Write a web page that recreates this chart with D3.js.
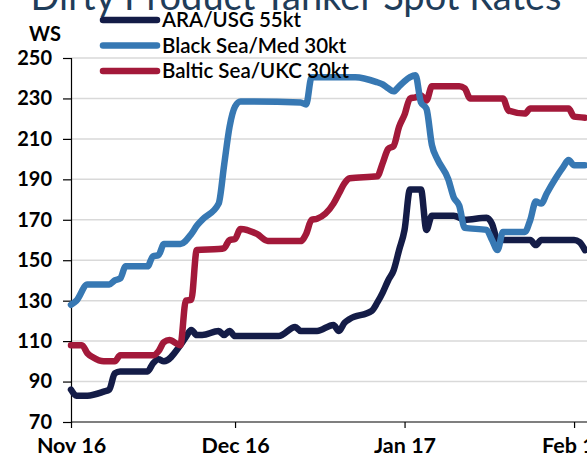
<!DOCTYPE html>
<html>
<head>
<meta charset="utf-8">
<script src="https://cdn.jsdelivr.net/npm/d3@7"></script>
<style>
  body { margin: 0; background: #fff; }
  svg { display: block; font-family: Lato, "Open Sans", sans-serif; }
</style>
</head>
<body>
<div id="chart"></div>
<script>
// chart data (WS points)
var araUsg = [
  ["2016-11-01", 86], ["2016-11-02", 83], ["2016-11-04", 83], ["2016-11-07", 85],
  ["2016-11-08", 86], ["2016-11-09", 94], ["2016-11-10", 95], ["2016-11-15", 95],
  ["2016-11-16", 99], ["2016-11-17", 101], ["2016-11-18", 100], ["2016-11-21", 108],
  ["2016-11-22", 112], ["2016-11-23", 115.5], ["2016-11-24", 113], ["2016-11-25", 113],
  ["2016-11-28", 115], ["2016-11-29", 113], ["2016-11-30", 115], ["2016-12-01", 112.5],
  ["2016-12-09", 112.5], ["2016-12-12", 117], ["2016-12-13", 115], ["2016-12-16", 115],
  ["2016-12-19", 118], ["2016-12-20", 115], ["2016-12-21", 119], ["2016-12-22", 121],
  ["2016-12-26", 125], ["2016-12-27", 129], ["2016-12-28", 134], ["2016-12-29", 140],
  ["2016-12-30", 145], ["2016-12-31", 155], ["2017-01-01", 165], ["2017-01-02", 185],
  ["2017-01-04", 185], ["2017-01-05", 165], ["2017-01-06", 172], ["2017-01-10", 172],
  ["2017-01-12", 170], ["2017-01-16", 171], ["2017-01-17", 168], ["2017-01-18", 160],
  ["2017-01-24", 160], ["2017-01-25", 157.5], ["2017-01-26", 160], ["2017-02-01", 160],
  ["2017-02-02", 159], ["2017-02-03", 155]
];

var blackSeaMed = [
  ["2016-11-01", 128], ["2016-11-02", 130], ["2016-11-04", 138], ["2016-11-08", 138],
  ["2016-11-09", 140], ["2016-11-10", 141], ["2016-11-11", 147], ["2016-11-15", 147],
  ["2016-11-16", 152], ["2016-11-17", 152.5], ["2016-11-18", 158], ["2016-11-21", 158],
  ["2016-11-23", 163], ["2016-11-24", 167], ["2016-11-25", 170], ["2016-11-28", 178],
  ["2016-11-29", 197], ["2016-11-30", 216], ["2016-12-01", 226], ["2016-12-02", 228.5],
  ["2016-12-13", 228], ["2016-12-14", 227], ["2016-12-15", 240.5], ["2016-12-23", 240.5],
  ["2016-12-27", 238], ["2016-12-28", 237], ["2016-12-29", 235], ["2016-12-30", 233.5],
  ["2016-12-31", 236], ["2017-01-01", 238.5], ["2017-01-02", 240.5], ["2017-01-03", 241.5],
  ["2017-01-04", 228], ["2017-01-05", 225], ["2017-01-06", 207], ["2017-01-07", 200],
  ["2017-01-09", 190], ["2017-01-10", 181], ["2017-01-11", 177], ["2017-01-12", 166],
  ["2017-01-16", 165], ["2017-01-17", 160], ["2017-01-18", 155], ["2017-01-19", 164],
  ["2017-01-23", 164], ["2017-01-24", 170], ["2017-01-25", 179], ["2017-01-26", 178],
  ["2017-01-27", 183], ["2017-01-30", 196], ["2017-01-31", 199.5], ["2017-02-01", 197],
  ["2017-02-03", 197]
];

var balticUkc = [
  ["2016-11-01", 108], ["2016-11-03", 108], ["2016-11-04", 104], ["2016-11-05", 102],
  ["2016-11-07", 100], ["2016-11-09", 100], ["2016-11-10", 103], ["2016-11-16", 103],
  ["2016-11-17", 105], ["2016-11-18", 109.5], ["2016-11-19", 110.5], ["2016-11-21", 108],
  ["2016-11-22", 130], ["2016-11-23", 130.5], ["2016-11-24", 155], ["2016-11-28", 155.5],
  ["2016-11-29", 156], ["2016-11-30", 160], ["2016-12-01", 160.5], ["2016-12-02", 165.5],
  ["2016-12-05", 163], ["2016-12-07", 159.5], ["2016-12-13", 159.5], ["2016-12-14", 163],
  ["2016-12-15", 170], ["2016-12-16", 170.5], ["2016-12-19", 178], ["2016-12-20", 183],
  ["2016-12-21", 188], ["2016-12-22", 190.5], ["2016-12-27", 191.5], ["2016-12-28", 198],
  ["2016-12-29", 205], ["2016-12-30", 206.5], ["2016-12-31", 216], ["2017-01-01", 222],
  ["2017-01-02", 230], ["2017-01-03", 230.5], ["2017-01-04", 231.5], ["2017-01-05", 229],
  ["2017-01-06", 236], ["2017-01-11", 236], ["2017-01-12", 235], ["2017-01-13", 230],
  ["2017-01-19", 230], ["2017-01-20", 224], ["2017-01-23", 222.5], ["2017-01-24", 225],
  ["2017-01-31", 225], ["2017-02-01", 221], ["2017-02-03", 220.5]
];

var seriesNames = ["ARA/USG 55kt", "Black Sea/Med 30kt", "Baltic Sea/UKC 30kt"];
var yTicks = [70, 90, 110, 130, 150, 170, 190, 210, 230, 250];
var xTicks = ["2016-11-01", "2016-12-01", "2017-01-01", "2017-02-01"];

// svg area
var svgWidth = 587;
var svgHeight = 459;
var margin = { top: 58, right: 0, bottom: 37, left: 71 };

var parseDate = d3.timeParse("%Y-%m-%d");
var colors = ["#141c47", "#3778b3", "#a3193a"];

var svg = d3.select("#chart")
  .append("svg")
  .attr("width", svgWidth)
  .attr("height", svgHeight);

// scales
var xScale = d3.scaleTime()
  .domain([parseDate("2016-11-01"), parseDate("2017-02-03")])
  .range([margin.left, 585]);

var yScale = d3.scaleLinear()
  .domain([70, 250])
  .range([svgHeight - margin.bottom, margin.top]);

// title, mostly cut off at the top
svg.append("text")
  .attr("x", 296)
  .attr("y", 10)
  .attr("text-anchor", "middle")
  .attr("font-size", 38)
  .attr("fill", "#1f3d5a")
  .text("Dirty Product Tanker Spot Rates");

// gridlines
svg.append("g")
  .selectAll("line")
  .data(yTicks.slice(1))
  .enter()
  .append("line")
  .attr("x1", margin.left)
  .attr("x2", svgWidth)
  .attr("y1", d => yScale(d))
  .attr("y2", d => yScale(d))
  .attr("stroke", "#d9d9d9")
  .attr("stroke-width", 1.5);

// y axis
var leftAxis = d3.axisLeft(yScale)
  .tickValues(yTicks)
  .tickSize(8)
  .tickPadding(11);

var yAxis = svg.append("g")
  .attr("transform", `translate(${margin.left}, 0)`)
  .call(leftAxis);

// x axis
var bottomAxis = d3.axisBottom(xScale)
  .tickValues(xTicks.map(parseDate))
  .tickFormat(d3.timeFormat("%b %y"))
  .tickSize(6)
  .tickPadding(10);

var xAxis = svg.append("g")
  .attr("transform", `translate(0, ${svgHeight - margin.bottom})`)
  .call(bottomAxis);

xAxis.select(".domain").attr("d", `M${margin.left},0H${svgWidth}`);

[yAxis, xAxis].forEach(function(ax) {
  ax.select(".domain").attr("stroke", "#000").attr("stroke-width", 1.2);
  ax.selectAll(".tick line").attr("stroke", "#000").attr("stroke-width", 1.2);
  ax.selectAll("text")
    .attr("font-family", "Lato, sans-serif")
    .attr("font-size", 20)
    .attr("font-weight", "bold")
    .attr("fill", "#000");
});
xAxis.selectAll("text").attr("font-size", 21.5);

// WS label
svg.append("text")
  .attr("x", 45)
  .attr("y", 41)
  .attr("text-anchor", "middle")
  .attr("font-size", 20)
  .attr("font-weight", "bold")
  .text("WS");

// lines
var line = d3.line()
  .x(d => xScale(parseDate(d[0])))
  .y(d => yScale(d[1]))
  .curve(d3.curveMonotoneX);

var allSeries = [araUsg, balticUkc, blackSeaMed];
var lineColors = [colors[0], colors[2], colors[1]];

svg.append("g")
  .selectAll("path")
  .data(allSeries)
  .enter()
  .append("path")
  .attr("d", d => line(d))
  .attr("fill", "none")
  .attr("stroke", (d, i) => lineColors[i])
  .attr("stroke-width", 6.5)
  .attr("stroke-linejoin", "round")
  .attr("stroke-linecap", "round");

// legend
var legend = svg.append("g");

var legendItems = legend.selectAll("g")
  .data(seriesNames)
  .enter()
  .append("g")
  .attr("transform", (d, i) => `translate(0, ${20 + i * 25.5})`);

legendItems.append("line")
  .attr("x1", 103)
  .attr("x2", 157)
  .attr("stroke", (d, i) => colors[i])
  .attr("stroke-width", 6.5)
  .attr("stroke-linecap", "round");

legendItems.append("text")
  .attr("x", 162)
  .attr("dy", "0.35em")
  .attr("font-size", 20.5)
  .attr("font-weight", 600)
  .attr("fill", "#000")
  .text(d => d);
</script>
</body>
</html>
